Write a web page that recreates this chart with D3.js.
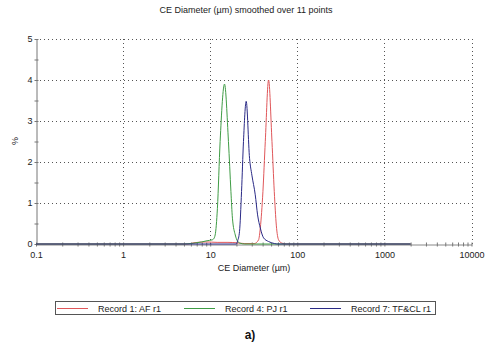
<!DOCTYPE html>
<html><head><meta charset="utf-8">
<script src="https://cdn.jsdelivr.net/npm/d3@7"></script>
<style>body{margin:0;background:#fff;} svg{display:block;font-family:"Liberation Sans",Arial,sans-serif;}</style>
</head><body><svg id="c" width="500" height="347"></svg>
<script>
// Data: [diameter µm, %]
const seriesNames = ["Record 1: AF r1", "Record 4: PJ r1", "Record 7: TF&CL r1"];
const seriesColors = ["#e0575a", "#3f9c45", "#2a2a86"];
const redData = [[0.1,0],[5.5,0],[6.5,0.03],[9,0.05],[12,0.04],[16,0.04],[20,0.03],[25,0.01],[32,0.01],[35.9,0.1],[37.6,0.39],[40.3,1.28],[42.9,2.5],[46.8,4.0],[51.2,2.5],[54.4,1.28],[57.4,0.46],[61,0.1],[66.7,0.02],[75,0],[2000,0]];
const greenData = [[0.1,0],[5,0],[6.5,0.02],[8,0.05],[9.2,0.08],[10.5,0.1],[10.9,0.12],[11.4,0.22],[12.1,0.87],[13.0,2.5],[14.6,3.9],[16.2,2.5],[17.3,1.28],[18.0,0.63],[19.4,0.22],[20.6,0.07],[22,0.02],[25,0],[2000,0]];
const blueData = [[0.1,0],[20,0],[20.6,0.07],[21.7,0.3],[22.9,1.28],[24.1,2.5],[25.9,3.48],[28.3,2.09],[30.1,1.68],[32.9,1.2],[35,0.71],[37.6,0.39],[41,0.15],[46.8,0.06],[55,0.01],[60,0],[2000,0]];
const xTicks = [0.1, 1, 10, 100, 1000, 10000];
const xTickLabels = ["0.1", "1", "10", "100", "1000", "10000"];
const yTicks = [0, 1, 2, 3, 4, 5];

const svg = d3.select("#c");
const L = 36, R = 471.5, T = 39, B = 244;
const x = d3.scaleLog().domain([0.1, 10000]).range([L, R]);
const y = d3.scaleLinear().domain([0, 5]).range([B, T]);
const gridColor = "#555";

// title
svg.append("text").attr("x", 246).attr("y", 13).attr("text-anchor", "middle")
  .attr("font-size", 9).attr("fill", "#222").text("CE Diameter (µm) smoothed over 11 points");

// grid
const g = svg.append("g");
g.selectAll(".hg").data(yTicks.filter(d => d > 0)).enter().append("line")
  .attr("x1", L).attr("x2", R).attr("y1", d => y(d) + 0.5).attr("y2", d => y(d) + 0.5)
  .attr("stroke", gridColor).attr("stroke-width", 1).attr("stroke-dasharray", "1,3");
g.selectAll(".vg").data(xTicks.filter(d => d > 0.1)).enter().append("line")
  .attr("x1", d => Math.round(x(d)) + 0.5).attr("x2", d => Math.round(x(d)) + 0.5).attr("y1", T).attr("y2", B)
  .attr("stroke", gridColor).attr("stroke-width", 1).attr("stroke-dasharray", "1,3");

// axes
const yAxis = d3.axisLeft(y).tickValues(d3.range(0, 5.01, 0.5)).tickSize(0)
  .tickFormat(d => Number.isInteger(d) ? d : "");
const ya = svg.append("g").attr("transform", `translate(${L + 0.5},0)`).call(yAxis);
ya.select(".domain").attr("stroke", "#777");
ya.selectAll(".tick line").attr("x1", -2).attr("x2", 2).attr("stroke", "#777");
ya.selectAll(".tick text").attr("x", -4).attr("font-size", 9).attr("fill", "#222").attr("font-family", "Liberation Sans, Arial, sans-serif");

const minor = [];
for (let e = -1; e < 4; e++) for (let k = 1; k < 10; k++) minor.push(k * Math.pow(10, e));
minor.push(10000);
const xAxis = d3.axisBottom(x).tickValues(minor).tickSize(0)
  .tickFormat(d => { const i = xTicks.findIndex(t => Math.abs(t - d) / d < 1e-6); return i >= 0 ? xTickLabels[i] : ""; });
const xa = svg.append("g").attr("transform", `translate(0,${B + 0.5})`).call(xAxis);
xa.select(".domain").attr("stroke", "#888");
xa.selectAll(".tick line").attr("y1", -2).attr("y2", 2).attr("stroke", "#777");
xa.selectAll(".tick text").attr("y", 7).attr("font-size", 9).attr("fill", "#222").attr("font-family", "Liberation Sans, Arial, sans-serif");

// axis titles
svg.append("text").attr("x", 254).attr("y", 271).attr("text-anchor", "middle")
  .attr("font-size", 9).attr("fill", "#222").text("CE Diameter (µm)");
svg.append("text").attr("transform", "translate(18,141) rotate(-90)").attr("text-anchor", "middle")
  .attr("font-size", 9).attr("fill", "#222").text("%");

// lines
const line = d3.line().x(d => x(d[0])).y(d => y(d[1])).curve(d3.curveMonotoneX);
[redData, greenData, blueData].forEach((data, i) => {
  svg.append("path").attr("d", line(data)).attr("fill", "none")
    .attr("stroke", seriesColors[i]).attr("stroke-width", 1);
});

// legend
const lg = svg.append("g");
lg.append("rect").attr("x", 55.5).attr("y", 301.5).attr("width", 380).attr("height", 13)
  .attr("fill", "#fff").attr("stroke", "#555").attr("stroke-width", 1);
const lx = [57, 184, 310];
seriesNames.forEach((n, i) => {
  lg.append("line").attr("x1", lx[i]).attr("x2", lx[i] + 31).attr("y1", 308.5).attr("y2", 308.5)
    .attr("stroke", seriesColors[i]).attr("stroke-width", 1);
  lg.append("text").attr("x", lx[i] + 41).attr("y", 311.5).attr("font-size", 9).attr("fill", "#222").text(n);
});

svg.append("text").attr("x", 250).attr("y", 339).attr("text-anchor", "middle")
  .attr("font-size", 12).attr("font-weight", "bold").attr("fill", "#111").text("a)");
</script></body></html>
